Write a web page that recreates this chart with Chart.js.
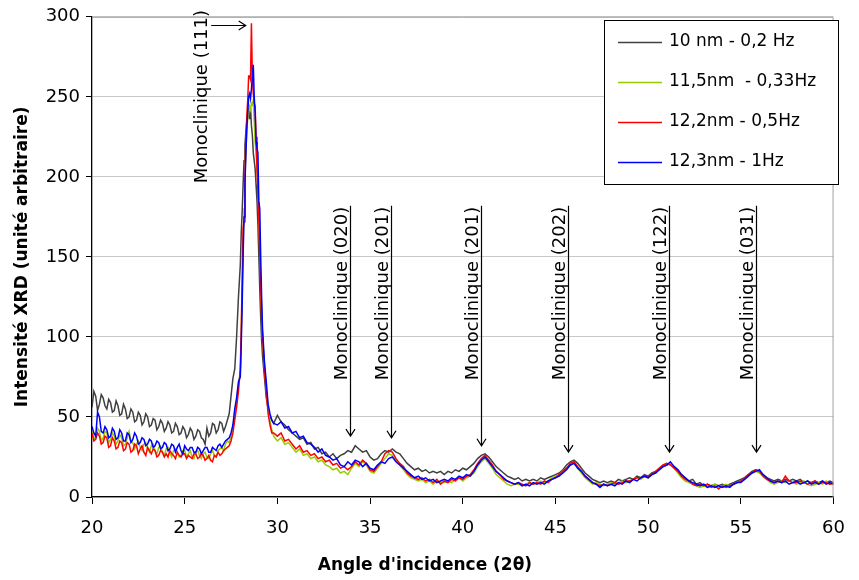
<!DOCTYPE html>
<html>
<head>
<meta charset="utf-8">
<script src="https://cdn.jsdelivr.net/npm/chart.js@4.4.1/dist/chart.umd.min.js"></script>
<style>
html,body{margin:0;padding:0;background:#fff;}
canvas{display:block;}
</style>
</head>
<body>
<canvas id="c" width="859" height="580"></canvas>
<script>
// ---------- DATA ----------
const angles = [
 20.0,20.1,20.2,20.3,20.4,20.5,20.6,20.7,20.8,20.9,
 21.0,21.1,21.2,21.3,21.4,21.5,21.6,21.7,21.8,21.9,
 22.0,22.1,22.2,22.3,22.4,22.5,22.6,22.7,22.8,22.9,
 23.0,23.1,23.2,23.3,23.4,23.5,23.6,23.7,23.8,23.9,
 24.0,24.1,24.2,24.3,24.4,24.5,24.6,24.7,24.8,24.9,
 25.0,25.1,25.2,25.3,25.4,25.5,25.6,25.7,25.8,25.9,
 26.0,26.1,26.2,26.3,26.4,26.5,26.6,26.7,26.8,26.9,
 27.0,27.1,27.2,27.3,
 27.4,27.5,27.6,27.7,27.8,27.9,
 28.0,28.05,28.1,28.15,28.2,28.25,28.3,28.35,28.4,28.45,28.5,28.55,
 28.6,28.65,28.7,28.75,28.8,28.85,28.9,28.95,29.0,29.05,29.1,29.15,
 29.2,29.3,29.4,29.5,29.6,29.7,
 29.8,
 30.0,30.2,30.4,30.6,30.8,
 31.0,31.2,31.4,31.6,31.8,
 32.0,32.2,32.4,32.6,32.8,
 33.0,33.2,33.4,33.6,33.8,
 34.0,34.2,34.4,34.6,34.8,
 35.0,35.2,35.4,35.6,35.8,
 36.0,36.2,36.4,36.6,36.8,
 37.0,37.2,37.4,37.6,37.8,
 38.0,38.2,38.4,38.6,38.8,
 39.0,39.2,39.4,39.6,39.8,
 40.0,40.2,40.4,40.6,40.8,
 41.0,41.2,41.4,41.6,41.8,
 42.0,42.2,42.4,42.6,42.8,
 43.0,43.2,43.4,43.6,43.8,
 44.0,44.2,44.4,44.6,44.8,
 45.0,45.2,45.4,45.6,45.8,
 46.0,46.2,46.4,46.6,46.8,
 47.0,47.2,47.4,47.6,47.8,
 48.0,48.2,48.4,48.6,48.8,
 49.0,49.2,49.4,49.6,49.8,
 50.0,50.2,50.4,50.6,50.8,
 51.0,51.2,51.4,51.6,51.8,
 52.0,52.2,52.4,52.6,52.8,
 53.0,53.2,53.4,53.6,53.8,
 54.0,54.2,54.4,54.6,54.8,
 55.0,55.2,55.4,55.6,55.8,
 56.0,56.2,56.4,56.6,56.8,
 57.0,57.2,57.4,57.6,57.8,
 58.0,58.2,58.4,58.6,58.8,
 59.0,59.2,59.4,59.6,59.8,
 60.0
];

const s10nm = [
 56,66,63,54,58,64,62,57,55,61,
 59,53,54,60,57,51,52,58,55,49,
 50,55,53,47,48,53,51,45,47,52,
 50,44,45,49,48,42,44,48,46,41,
 43,47,45,40,41,46,44,39,40,44,
 42,37,39,43,41,36,38,42,41,37,
 36,33,43,38,40,46,45,40,42,47,
 46,41,44,48,
 52,63,74,80,100,125,
 145,165,178,195,210,220,228,235,238,241,236,243,
 232,226,215,210,205,195,185,170,150,130,112,98,
 88,75,62,55,50,48,
 46,
 51,47,45,42,40,
 38,36,37,33,34,
 30,31,27,28,25,
 27,24,26,27,29,
 28,32,30,28,29,
 25,23,24,27,29,
 28,30,28,27,24,
 21,19,17,18,16,
 17,15,16,15,16,
 14,16,15,17,16,
 18,17,19,21,24,
 26,27,25,22,19,
 17,15,13,12,11,
 12,10,11,10,11,
 10,12,11,12,13,
 14,15,17,20,22,
 23,21,18,15,13,
 11,10,9,10,9,
 10,9,11,10,11,
 12,11,13,12,14,
 13,15,16,17,19,
 20,21,19,17,14,
 12,10,11,8,9,
 7,8,7,8,7,
 8,7,8,9,10,
 11,12,14,16,17,
 16,14,12,11,10,
 11,10,11,10,11,
 10,11,9,10,9,
 10,9,10,9,10,
 9
];

const s115nm = [
 42,36,38,43,41,35,37,41,40,34,
 36,40,38,33,35,39,37,32,33,37,
 41,35,34,30,33,35,31,29,33,34,
 30,28,32,33,29,27,31,32,28,26,
 30,31,27,25,29,30,28,25,26,29,
 29,25,27,29,25,24,28,29,26,24,
 27,28,25,24,27,29,26,25,29,30,
 31,29,33,35,
 34,38,44,52,60,70,
 78,100,128,155,180,198,215,228,236,240,244,242,
 246,245,248,235,222,215,205,195,175,155,135,118,
 100,82,68,55,47,42,
 38,
 35,37,33,34,31,
 28,30,26,27,24,
 25,22,23,20,19,
 17,18,15,16,14,
 18,21,19,22,20,
 16,15,18,21,24,
 27,26,23,20,17,
 14,12,11,10,11,
 9,10,8,10,9,
 9,10,9,11,12,
 10,12,13,15,19,
 22,24,21,18,14,
 12,10,8,7,8,
 8,7,8,9,8,
 9,10,9,10,12,
 13,14,16,18,20,
 21,18,15,12,10,
 8,9,8,7,8,
 9,8,9,10,9,
 10,11,12,11,13,
 12,14,15,17,19,
 20,21,18,15,12,
 10,9,8,7,6,
 7,6,7,8,6,
 7,8,7,8,9,
 10,11,13,15,16,
 15,13,11,9,8,
 9,10,9,10,9,
 8,9,10,8,7,
 8,9,8,10,8,
 8
];

const s122nm = [
 40,35,36,40,38,33,34,38,37,31,
 32,37,35,30,31,35,34,29,30,34,
 33,28,29,33,32,27,30,32,28,26,
 31,29,27,30,29,25,26,29,28,25,
 27,25,29,27,26,24,28,26,25,27,
 27,24,26,25,24,27,27,24,25,27,
 26,23,24,26,23,22,26,25,28,26,
 27,29,30,31,
 32,35,40,48,56,66,
 80,105,135,168,172,200,222,238,248,263,263,261,
 296,262,252,246,244,225,205,190,175,150,130,112,
 100,80,66,52,45,40,
 40,
 38,40,35,36,33,
 30,32,28,29,26,
 27,24,25,22,23,
 20,21,18,19,17,
 19,22,20,23,21,
 17,16,19,22,27,
 29,28,24,21,19,
 15,13,12,11,12,
 10,11,9,11,8,
 10,9,11,10,12,
 11,13,14,17,21,
 24,26,23,20,16,
 14,11,10,9,8,
 9,8,7,9,8,
 9,8,10,9,11,
 12,14,16,18,21,
 22,19,16,13,11,
 9,8,7,8,7,
 8,9,8,9,10,
 10,11,12,12,13,
 13,14,16,18,20,
 21,20,18,16,13,
 11,10,8,7,8,
 7,8,6,7,5,
 7,6,7,8,9,
 10,12,14,15,17,
 16,13,11,10,9,
 10,9,13,10,9,
 9,10,9,8,9,
 10,8,9,9,8,
 9
];

const s123nm = [
 44,40,38,53,50,41,40,44,42,37,
 38,43,41,36,37,42,40,35,35,40,
 39,34,36,40,38,33,34,37,36,32,
 33,36,35,31,32,35,34,30,31,34,
 33,29,30,33,32,28,31,33,29,27,
 32,30,29,31,31,28,28,31,30,27,
 29,31,31,28,28,31,30,29,32,33,
 31,33,35,36,
 37,40,45,55,62,72,
 75,95,120,150,175,195,215,230,240,250,252,249,
 255,262,270,250,240,222,218,215,185,180,150,125,
 105,85,72,58,52,48,
 46,
 45,47,43,44,40,
 41,37,38,34,33,
 31,28,30,26,25,
 23,24,20,19,22,
 20,23,22,19,21,
 18,17,20,22,21,
 24,25,22,20,18,
 16,14,12,13,11,
 12,10,11,9,10,
 11,10,12,11,13,
 12,14,13,16,20,
 23,25,22,19,16,
 14,12,10,9,8,
 9,7,8,7,9,
 8,9,8,10,11,
 12,13,15,17,20,
 21,18,16,13,11,
 9,8,6,8,7,
 8,7,9,8,10,
 9,11,10,12,13,
 12,14,15,17,19,
 20,22,19,17,14,
 12,10,9,8,7,
 8,6,7,6,7,
 6,7,6,8,9,
 9,11,13,15,16,
 17,14,12,10,9,
 10,9,10,8,9,
 10,8,9,10,8,
 9,8,10,8,9,
 8
];

const seriesLabels = ['10 nm - 0,2 Hz', '11,5nm  - 0,33Hz', '12,2nm - 0,5Hz', '12,3nm - 1Hz'];
const yTicks = [0, 50, 100, 150, 200, 250, 300];
const xTicks = [20, 25, 30, 35, 40, 45, 50, 55, 60];

// peak annotations (data coordinates)
const peakLabels = ['Monoclinique (020)', 'Monoclinique (201)', 'Monoclinique (201)', 'Monoclinique (202)', 'Monoclinique (122)', 'Monoclinique (031)'];
const peakAngles = [33.9, 36.15, 41.0, 45.7, 51.1, 55.8];
const peakTips = [38, 37, 32, 28, 28, 28];
const mainPeakLabel = 'Monoclinique (111)';

// ---------- STYLE ----------
const colors = ['#404040', '#99cc00', '#ff0000', '#0000ff'];
const FONT = '"DejaVu Sans", "Noto Sans", sans-serif';

const allSeries = [s10nm, s115nm, s122nm, s123nm];
const datasets = allSeries.map((s, i) => ({
  label: seriesLabels[i],
  data: s.map((v, k) => ({x: angles[k], y: v})),
  borderColor: colors[i],
  borderWidth: 1.5,
  pointRadius: 0,
  fill: false,
  tension: 0,
  order: 4 - i
}));

const overlay = {
  id: 'overlay',
  afterDatasetsDraw(chart) {
    const {ctx, chartArea: a, scales: {x, y}} = chart;
    ctx.save();
    // plot border (top/right)
    ctx.strokeStyle = '#a0a0a0';
    ctx.lineWidth = 1;
    ctx.beginPath();
    ctx.moveTo(a.left, a.top + 0.5);
    ctx.lineTo(a.right - 0.5, a.top + 0.5);
    ctx.lineTo(a.right - 0.5, a.bottom);
    ctx.stroke();

    // vertical arrows + labels
    ctx.strokeStyle = '#000';
    ctx.fillStyle = '#000';
    ctx.lineWidth = 1.2;
    ctx.font = '18px ' + FONT;
    ctx.textAlign = 'left';
    ctx.textBaseline = 'alphabetic';
    const topPx = y.getPixelForValue(182);
    const labelStart = y.getPixelForValue(73);
    peakAngles.forEach((ang, i) => {
      const px = Math.round(x.getPixelForValue(ang)) + 0.5;
      const tip = y.getPixelForValue(peakTips[i]);
      ctx.beginPath();
      ctx.moveTo(px, topPx);
      ctx.lineTo(px, tip);
      ctx.moveTo(px - 4.5, tip - 7);
      ctx.lineTo(px, tip);
      ctx.lineTo(px + 4.5, tip - 7);
      ctx.stroke();
      ctx.save();
      ctx.translate(px - 4, labelStart);
      ctx.rotate(-Math.PI / 2);
      ctx.fillText(peakLabels[i], 0, 0);
      ctx.restore();
    });

    // main peak label + horizontal arrow
    const bx = x.getPixelForValue(26.43);
    const ax = x.getPixelForValue(28.29);
    const ay = Math.round(y.getPixelForValue(295)) + 0.5;
    ctx.save();
    ctx.translate(bx - 4, y.getPixelForValue(196));
    ctx.rotate(-Math.PI / 2);
    ctx.fillText(mainPeakLabel, 0, 0);
    ctx.restore();
    ctx.beginPath();
    ctx.moveTo(bx, ay);
    ctx.lineTo(ax, ay);
    ctx.moveTo(ax - 7, ay - 4.5);
    ctx.lineTo(ax, ay);
    ctx.lineTo(ax - 7, ay + 4.5);
    ctx.stroke();

    ctx.restore();
  },
  afterDraw(chart) {
    const {ctx} = chart;
    ctx.save();
    // legend box
    ctx.fillStyle = '#fff';
    ctx.fillRect(604, 20, 234, 164);
    ctx.strokeStyle = '#000';
    ctx.lineWidth = 1;
    ctx.strokeRect(604.5, 20.5, 234, 164);
    ctx.font = '17px ' + FONT;
    ctx.textBaseline = 'middle';
    ctx.textAlign = 'left';
    chart.data.datasets.forEach((ds, i) => {
      const yy = 42 + i * 40;
      ctx.strokeStyle = ds.borderColor;
      ctx.lineWidth = 1.3;
      ctx.beginPath();
      ctx.moveTo(618, yy + 0.5);
      ctx.lineTo(662, yy + 0.5);
      ctx.stroke();
      ctx.fillStyle = '#000';
      ctx.fillText(ds.label, 669, yy);
    });
    // x axis title
    ctx.font = 'bold 17px ' + FONT;
    ctx.textAlign = 'center';
    ctx.textBaseline = 'middle';
    ctx.fillStyle = '#000';
    ctx.fillText("Angle d'incidence (2\u03B8)", 425, 566);
    ctx.restore();
  }
};

Chart.defaults.color = '#000';
Chart.defaults.font.family = FONT;

new Chart(document.getElementById('c'), {
  type: 'line',
  data: {datasets},
  options: {
    responsive: false,
    animation: false,
    devicePixelRatio: 1,
    parsing: false,
    normalized: true,
    layout: {padding: {top: 15, right: 14, left: 0, bottom: 0}},
    plugins: {legend: {display: false}, tooltip: {enabled: false}},
    scales: {
      x: {
        type: 'linear',
        min: 20, max: 60,
        afterBuildTicks: (s) => { s.ticks = xTicks.map(v => ({value: v})); },
        afterFit: (s) => { s.height = 83; },
        grid: {drawOnChartArea: false, tickColor: '#000', tickLength: 7},
        border: {color: '#000', width: 1.3},
        ticks: {font: {size: 18}, padding: 14, maxRotation: 0, color: '#000'}
      },
      y: {
        min: 0, max: 300,
        afterBuildTicks: (s) => { s.ticks = yTicks.map(v => ({value: v})); },
        afterFit: (s) => { s.width = 92; },
        grid: {color: '#c8c8c8', tickColor: '#000', tickLength: 6},
        border: {color: '#000', width: 1.3},
        ticks: {font: {size: 18}, padding: 6, color: '#000'},
        title: {
          display: true,
          text: 'Intensité XRD (unité arbitraire)',
          font: {size: 17, weight: 'bold'},
          padding: {top: 12, bottom: 0},
          color: '#000'
        }
      }
    }
  },
  plugins: [overlay]
});
</script>
</body>
</html>
